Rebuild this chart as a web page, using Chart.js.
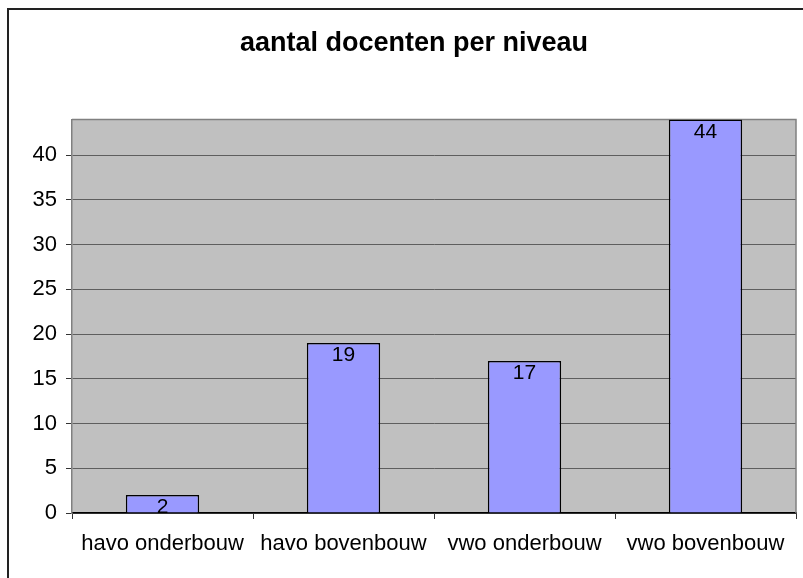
<!DOCTYPE html>
<html>
<head>
<meta charset="utf-8">
<script src="https://cdn.jsdelivr.net/npm/chart.js@4.4.1/dist/chart.umd.min.js"></script>
<style>
  html, body { margin: 0; padding: 0; background: #fff; }
  #wrap { width: 803px; height: 578px; }
</style>
</head>
<body>
<div id="wrap"><canvas id="myChart" width="803" height="578"></canvas></div>
<script>
var categories = ['havo onderbouw', 'havo bovenbouw', 'vwo onderbouw', 'vwo bovenbouw'];
var docenten = [2, 19, 17, 44];
var yTicks = [0, 5, 10, 15, 20, 25, 30, 35, 40];
var yMax = 44;

var fontFam = "'Liberation Sans', Arial, sans-serif";

// background, outer frame and gray plot area
var plotBg = {
    id: 'plotBg',
    beforeDraw: function (chart) {
        var c = chart.ctx, a = chart.chartArea;
        c.save();
        c.fillStyle = '#ffffff';
        c.fillRect(0, 0, chart.width, chart.height);
        c.strokeStyle = '#222222';
        c.lineWidth = 2;
        c.beginPath();
        c.moveTo(8, chart.height + 2);
        c.lineTo(8, 9);
        c.lineTo(chart.width + 2, 9);
        c.stroke();
        c.fillStyle = '#c0c0c0';
        c.fillRect(a.left, a.top, a.right - a.left, a.bottom - a.top);
        c.restore();
    },
    beforeDatasetsDraw: function (chart) {
        var c = chart.ctx, a = chart.chartArea;
        c.save();
        c.strokeStyle = '#808080';
        c.lineWidth = 1.5;
        c.beginPath();
        c.moveTo(a.left, a.top);
        c.lineTo(a.right, a.top);
        c.lineTo(a.right, a.bottom);
        c.stroke();
        c.restore();
    }
};

// value labels inside top of bars
var valueLabels = {
    id: 'valueLabels',
    afterDatasetsDraw: function (chart) {
        var c = chart.ctx;
        var meta = chart.getDatasetMeta(0);
        c.save();
        c.font = '21px ' + fontFam;
        c.fillStyle = '#000';
        c.textAlign = 'center';
        c.textBaseline = 'top';
        meta.data.forEach(function (bar, i) {
            c.fillText(String(docenten[i]), bar.x, bar.y + 2);
        });
        c.restore();
    }
};

var ctx = document.getElementById('myChart').getContext('2d');
var myChart = new Chart(ctx, {
    type: 'bar',
    data: {
        labels: categories,
        datasets: [{
            data: docenten,
            backgroundColor: '#9999ff',
            borderColor: '#000000',
            borderWidth: 1.5,
            borderSkipped: 'bottom',
            barPercentage: 0.405,
            categoryPercentage: 1.0
        }]
    },
    options: {
        responsive: false,
        animation: false,
        layout: { padding: { left: 32, right: 7, top: 0, bottom: 0 } },
        plugins: {
            legend: { display: false },
            tooltip: { enabled: false },
            title: {
                display: true,
                text: 'aantal docenten per niveau',
                color: '#000',
                font: { family: fontFam, size: 27, weight: 'bold', lineHeight: 1.2 },
                padding: { top: 27, bottom: 60 }
            }
        },
        scales: {
            x: {
                grid: {
                    offset: true,
                    drawOnChartArea: false,
                    drawTicks: true,
                    tickLength: 6,
                    tickColor: '#333'
                },
                border: { color: '#000', width: 1.5 },
                ticks: {
                    color: '#000',
                    font: { family: fontFam, size: 22 },
                    padding: 12,
                    maxRotation: 0,
                    autoSkip: false
                },
                afterFit: function (s) { s.height = 65; }
            },
            y: {
                min: 0,
                max: yMax,
                grid: {
                    color: '#5e5e5e',
                    lineWidth: 1,
                    tickLength: 6,
                    tickColor: '#333'
                },
                border: { color: '#808080', width: 1.5 },
                ticks: {
                    stepSize: 5,
                    color: '#000',
                    font: { family: fontFam, size: 22 },
                    padding: 9
                },
                afterBuildTicks: function (s) {
                    s.ticks = yTicks.map(function (v) { return { value: v }; });
                },
                afterFit: function (s) { s.width = 40; }
            }
        }
    },
    plugins: [plotBg, valueLabels]
});
</script>
</body>
</html>
